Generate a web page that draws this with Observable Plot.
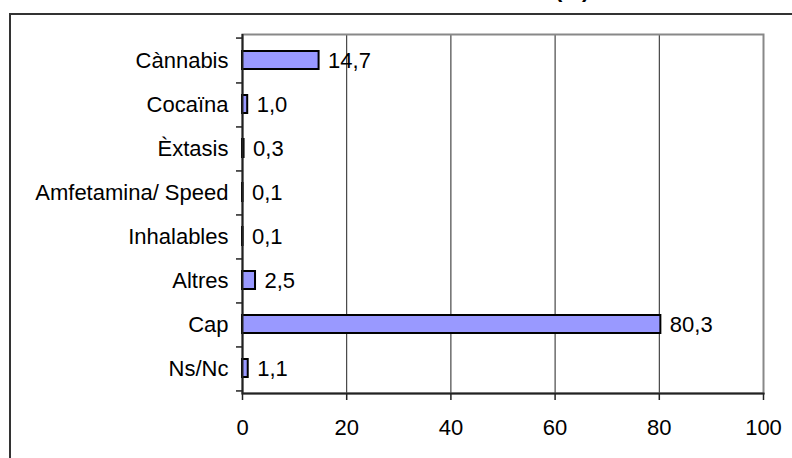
<!DOCTYPE html>
<html>
<head>
<meta charset="utf-8">
<script src="https://cdn.jsdelivr.net/npm/d3@7"></script>
<script src="https://cdn.jsdelivr.net/npm/@observablehq/plot@0.6"></script>
<style>
  html, body { margin: 0; padding: 0; background: #fff; }
  #wrap { position: relative; width: 792px; height: 458px; overflow: hidden; font-family: "Liberation Sans", Arial, sans-serif; }
  #border { position: absolute; left: 9px; top: 13px; width: 800px; height: 460px; border-left: 2px solid #333; border-top: 2px solid #333; box-sizing: border-box; }
  #title { position: absolute; left: 555px; top: -21px; font-weight: bold; font-size: 22px; line-height: 22px; white-space: nowrap; }
  #chart { position: absolute; left: 0; top: 0; }
</style>
</head>
<body>
<div id="wrap">
  <div id="border"></div>
  <div id="title">(%)</div>
  <div id="chart"></div>
</div>
<script>
const categories = ["Cànnabis", "Cocaïna", "Èxtasis", "Amfetamina/ Speed", "Inhalables", "Altres", "Cap", "Ns/Nc"];
const values = [14.7, 1.0, 0.3, 0.1, 0.1, 2.5, 80.3, 1.1];
const xTicks = [0, 20, 40, 60, 80, 100];

const data = categories.map((c, i) => ({category: c, value: values[i]}));
const fmt = v => v.toFixed(1).replace(".", ",");

const W = 792, H = 458, mT = 34, mB = 65, mL = 242, mR = 29;
const step = (H - mT - mB) / categories.length;

const chart = Plot.plot({
  width: W,
  height: H,
  marginTop: mT,
  marginBottom: mB,
  marginLeft: mL,
  marginRight: mR,
  style: {fontFamily: "'Liberation Sans', Arial, sans-serif", fontSize: "22px", background: "transparent", color: "#000"},
  x: {domain: [0, 100]},
  y: {domain: categories, paddingInner: 0.6, paddingOuter: 0.3},
  marks: [
    Plot.gridX(xTicks.slice(1, -1), {stroke: "#222", strokeOpacity: 1, strokeWidth: 1}),
    Plot.frame({stroke: "#888", strokeWidth: 2}),
    Plot.axisX({ticks: xTicks, tickSize: 7, tickPadding: 19, tickFormat: d => String(d), fontSize: 22, stroke: "#222", strokeWidth: 1.5, label: null}),
    Plot.axisY({tickSize: 0, tickPadding: 14, fontSize: 22, label: null}),
    Plot.axisY({ticks: categories, tickSize: 6, text: null, dy: step / 2, stroke: "#222", strokeWidth: 1.5, label: null}),
    Plot.axisY({ticks: categories.slice(0, 1), tickSize: 6, text: null, dy: -step / 2, stroke: "#222", strokeWidth: 1.5, label: null}),
    Plot.barX(data, {x: "value", y: "category", fill: "#9999ff", stroke: "#000", strokeWidth: 2}),
    Plot.ruleX([0], {stroke: "#222", strokeWidth: 2}),
    Plot.frame({anchor: "bottom", stroke: "#222", strokeWidth: 2}),
    Plot.text(data, {x: "value", y: "category", text: d => fmt(d.value), textAnchor: "start", dx: 9, fontSize: 22, fill: "#000"})
  ]
});
document.getElementById("chart").appendChild(chart);
</script>
</body>
</html>
